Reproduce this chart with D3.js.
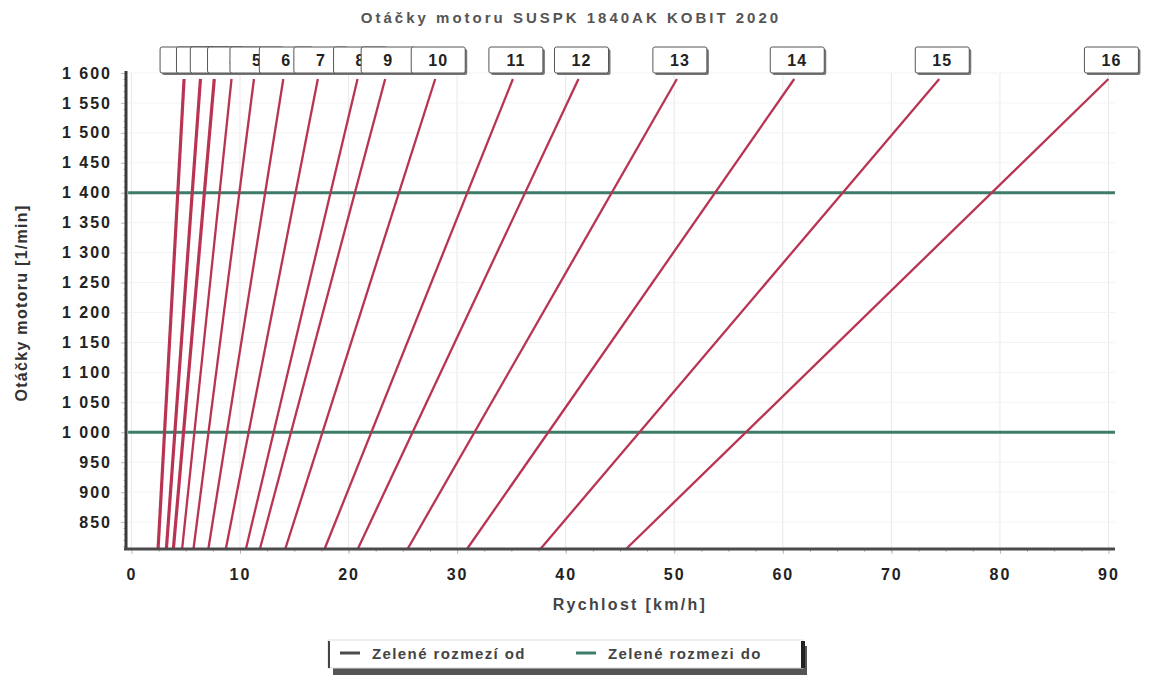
<!DOCTYPE html>
<html>
<head>
<meta charset="utf-8">
<script src="https://cdn.jsdelivr.net/npm/d3@7"></script>
<style>
    body { margin: 0; background: #fff; font-family: "Liberation Sans", Arial, sans-serif; }
    .tick text { font-weight: bold; font-size: 16px; letter-spacing: 2px; fill: #222; }
</style>
</head>
<body>
<div id="chart"></div>
<script>

// gear numbers and speed [km/h] reached at 1000 rpm for each gear
const gears = [1, 2, 3, 4, 5, 6, 7, 8, 9, 10, 11, 12, 13, 14, 15, 16];
const speedAt1000 = [3.05, 4.0, 4.8, 5.8, 7.1, 8.8, 10.8, 13.1, 14.7, 17.6, 22.1, 25.9, 31.6, 38.4, 46.8, 56.6];

// rpm span of each gear line
const rpmFrom = 805;
const rpmTo = 1590;

// green range limits
const greenFrom = 1000;
const greenTo = 1400;

const xTickValues = [0, 10, 20, 30, 40, 50, 60, 70, 80, 90];
const yTickValues = [850, 900, 950, 1000, 1050, 1100, 1150, 1200, 1250, 1300, 1350, 1400, 1450, 1500, 1550, 1600];

const legendItems = ["Zelené rozmezí od", "Zelené rozmezi do"];
const legendColors = ["#4a4a4a", "#3d7c6a"];

let width = 1150, height = 677;

let svg = d3.select("#chart").append("svg")
    .attr("width", width)
    .attr("height", height);

let x = d3.scaleLinear()
    .domain([-0.5, 90.6])
    .range([126, 1115]);

let y = d3.scaleLinear()
    .domain([805, 1600])
    .range([549, 73]);

// title
svg.append("text")
    .attr("x", 571)
    .attr("y", 23)
    .attr("text-anchor", "middle")
    .style("font-size", "15px")
    .style("font-weight", "bold")
    .style("letter-spacing", "3px")
    .style("fill", "#555")
    .text("Otáčky motoru SUSPK 1840AK KOBIT 2020");

// grid
svg.append("g")
    .selectAll("line")
    .data(xTickValues)
    .join("line")
    .attr("x1", d => x(d)).attr("x2", d => x(d))
    .attr("y1", y(1600)).attr("y2", y(805))
    .style("stroke", "#e8e8e8");

svg.append("g")
    .selectAll("line")
    .data(yTickValues)
    .join("line")
    .attr("x1", x(-0.5)).attr("x2", x(90.6))
    .attr("y1", d => y(d)).attr("y2", d => y(d))
    .style("stroke", "#f3f3f3");

// green range lines
svg.append("g")
    .selectAll("line")
    .data([greenFrom, greenTo])
    .join("line")
    .attr("x1", x(-0.3)).attr("x2", x(90.6))
    .attr("y1", d => y(d)).attr("y2", d => y(d))
    .style("stroke", legendColors[1])
    .style("stroke-width", 3);

// gear lines
let lineData = gears.map((g, i) => ({
    gear: g,
    points: [[rpmFrom, speedAt1000[i] * rpmFrom / 1000], [rpmTo, speedAt1000[i] * rpmTo / 1000]]
}));

svg.append("g")
    .selectAll("line")
    .data(lineData)
    .join("line")
    .attr("x1", d => x(d.points[0][1]))
    .attr("y1", d => y(d.points[0][0]))
    .attr("x2", d => x(d.points[1][1]))
    .attr("y2", d => y(d.points[1][0]))
    .style("stroke", "#b83452")
    .style("stroke-width", d => d.gear <= 3 ? 3.2 : 2.3);

// axes
let fmt = d => d3.format(",")(d).replace(",", " ");

let yAxis = svg.append("g")
    .attr("transform", "translate(126,0)")
    .call(d3.axisLeft(y).tickValues(yTickValues).tickFormat(fmt).tickSize(5).tickPadding(9));
yAxis.select(".domain").remove();
yAxis.selectAll(".tick line").style("stroke", "#bbb");

let yMinor = svg.append("g")
    .attr("transform", "translate(126,0)")
    .call(d3.axisLeft(y).tickValues(d3.range(810, 1600, 10)).tickFormat("").tickSize(3));
yMinor.select(".domain").remove();
yMinor.selectAll("line").style("stroke", "#ccc");

let xAxis = svg.append("g")
    .attr("transform", "translate(0,549)")
    .call(d3.axisBottom(x).tickValues(xTickValues).tickSize(5).tickPadding(15));
xAxis.select(".domain").remove();
xAxis.selectAll(".tick line").style("stroke", "#bbb");

let xMinor = svg.append("g")
    .attr("transform", "translate(0,549)")
    .call(d3.axisBottom(x).tickValues(d3.range(2.5, 90, 2.5)).tickFormat("").tickSize(3));
xMinor.select(".domain").remove();
xMinor.selectAll("line").style("stroke", "#bbb");

svg.append("line")
    .attr("x1", 126).attr("x2", 126)
    .attr("y1", 71).attr("y2", 550)
    .style("stroke", "#3a3a3a").style("stroke-width", 3);

svg.append("line")
    .attr("x1", 124).attr("x2", 1115)
    .attr("y1", 549).attr("y2", 549)
    .style("stroke", "#4a4a4a").style("stroke-width", 3);

// axis titles
svg.append("text")
    .attr("x", 630)
    .attr("y", 610)
    .attr("text-anchor", "middle")
    .style("font-size", "16px")
    .style("font-weight", "bold")
    .style("letter-spacing", "2.3px")
    .style("fill", "#444")
    .text("Rychlost [km/h]");

svg.append("text")
    .attr("transform", "translate(27,303) rotate(-90)")
    .attr("text-anchor", "middle")
    .style("font-size", "16px")
    .style("font-weight", "bold")
    .style("letter-spacing", "1.3px")
    .style("fill", "#333")
    .text("Otáčky motoru [1/min]");

// gear labels on top of each line
let labels = svg.append("g")
    .selectAll("g")
    .data(lineData)
    .join("g")
    .attr("transform", d => `translate(${x(d.points[1][1]) + 3}, 60)`);

labels.append("rect")
    .attr("x", -25).attr("y", -11)
    .attr("width", 54).attr("height", 26)
    .attr("rx", 2)
    .style("fill", "#777");

labels.append("rect")
    .attr("x", -27).attr("y", -13)
    .attr("width", 54).attr("height", 26)
    .attr("rx", 2)
    .style("fill", "#fff")
    .style("stroke", "#555")
    .style("stroke-width", 1);

labels.append("text")
    .attr("y", 6)
    .attr("text-anchor", "middle")
    .style("font-size", "16px")
    .style("font-weight", "bold")
    .style("letter-spacing", "1px")
    .style("fill", "#222")
    .text(d => d.gear);

// legend
let legend = svg.append("g");

legend.append("rect")
    .attr("x", 333).attr("y", 646)
    .attr("width", 474).attr("height", 29)
    .style("fill", "#555");

legend.append("rect")
    .attr("x", 328).attr("y", 640)
    .attr("width", 475).attr("height", 28)
    .style("fill", "#fff")
    .style("stroke", "#ddd");

legend.append("line")
    .attr("x1", 329).attr("x2", 329)
    .attr("y1", 641).attr("y2", 668)
    .style("stroke", "#444").style("stroke-width", 2);

legend.append("line")
    .attr("x1", 803).attr("x2", 803)
    .attr("y1", 641).attr("y2", 668)
    .style("stroke", "#222").style("stroke-width", 4);

let legendX = [340, 576];

legendItems.forEach((t, i) => {
    legend.append("line")
        .attr("x1", legendX[i]).attr("x2", legendX[i] + 20)
        .attr("y1", 653).attr("y2", 653)
        .style("stroke", legendColors[i])
        .style("stroke-width", 3);

    legend.append("text")
        .attr("x", legendX[i] + 32)
        .attr("y", 659)
        .style("font-size", "15px")
        .style("font-weight", "bold")
        .style("letter-spacing", "1.4px")
        .style("fill", "#444")
        .text(t);
});

</script>
</body>
</html>
